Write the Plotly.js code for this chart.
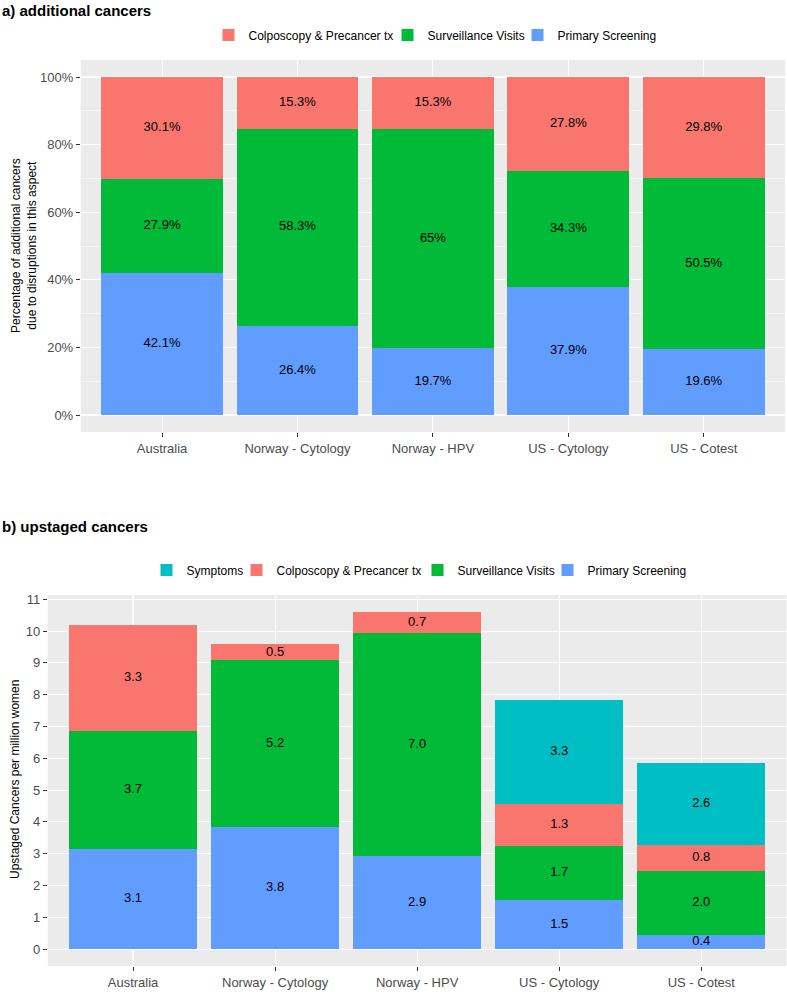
<!DOCTYPE html>
<html>
<head>
<meta charset="utf-8">
<script src="https://cdn.plot.ly/plotly-3.0.1.min.js"></script>
<style>html,body{margin:0;padding:0;background:#fff;}#chart{width:787px;height:997px;}</style>
</head>
<body>
<div id="chart"></div>
<script>
// ---------- data ----------
const categories = ['Australia', 'Norway - Cytology', 'Norway - HPV', 'US - Cytology', 'US - Cotest'];

// panel a: percentage of additional cancers (%)
const aPrimary      = [42.1, 26.4, 19.7, 37.9, 19.6];
const aSurveillance = [27.9, 58.3, 65, 34.3, 50.5];
const aColposcopy   = [30.1, 15.3, 15.3, 27.8, 29.8];

// panel b: upstaged cancers per million women
const bPrimary      = [3.14, 3.84, 2.92, 1.54, 0.44];
const bSurveillance = [3.72, 5.24, 7.02, 1.70, 2.01];
const bColposcopy   = [3.32, 0.50, 0.66, 1.32, 0.82];
const bSymptoms     = [null, null, null, 3.27, 2.58];

const seriesNames = ['Primary Screening', 'Surveillance Visits', 'Colposcopy & Precancer tx', 'Symptoms'];
const seriesColors = ['#619CFF', '#00BA38', '#F8766D', '#00BFC4'];

// ---------- helpers ----------
const FONT = 'Liberation Sans, Arial, sans-serif';
const W = 787, H = 997;
const px = v => v / W;
const py = v => 1 - v / H;
const SWATCH_OFFSET = 13.5;   // legend left edge -> swatch left edge (px)

// legend slot (swatch left edge in px) per panel and series index
const legendSlotsA = {2: 222, 1: 401, 0: 531};
const legendSlotsB = {3: 160, 2: 250, 1: 431, 0: 561};

const traces = [];
const legends = {};
let legendCount = 0;
function newLegend(swatchLeft, yCenter) {
  legendCount += 1;
  const key = legendCount === 1 ? 'legend' : 'legend' + legendCount;
  legends[key] = {
    orientation: 'h', x: px(swatchLeft - SWATCH_OFFSET), xanchor: 'left',
    y: py(yCenter), yanchor: 'middle',
    font: {family: FONT, size: 12, color: '#000'},
    bgcolor: 'rgba(0,0,0,0)', itemwidth: 30
  };
  return key;
}

// panel a: normalise per category (position = fill)
const aSeries = [aPrimary, aSurveillance, aColposcopy];
const aTotals = categories.map((c, i) => aSeries.reduce((s, arr) => s + (arr[i] || 0), 0));
const aCum = categories.map(() => 0);
const aTx = [], aTy = [], aTt = [];
aSeries.forEach((arr, k) => {
  const frac = arr.map((v, i) => v / aTotals[i]);
  traces.push({
    type: 'bar', x: categories, y: frac, name: seriesNames[k],
    marker: {color: seriesColors[k], line: {width: 0}},
    xaxis: 'x', yaxis: 'y', legend: newLegend(legendSlotsA[k], 35), hoverinfo: 'skip'
  });
  frac.forEach((f, i) => {
    aTx.push(categories[i]); aTy.push(aCum[i] + f / 2); aTt.push(arr[i] + '%');
    aCum[i] += f;
  });
});
traces.push({
  type: 'scatter', mode: 'text', x: aTx, y: aTy, text: aTt,
  textfont: {family: FONT, size: 13, color: '#000'}, textposition: 'middle center',
  xaxis: 'x', yaxis: 'y', showlegend: false, hoverinfo: 'skip', cliponaxis: false
});

// panel b
const bSeries = [bPrimary, bSurveillance, bColposcopy, bSymptoms];
const bCum = categories.map(() => 0);
const bTx = [], bTy = [], bTt = [];
bSeries.forEach((arr, k) => {
  traces.push({
    type: 'bar', x: categories, y: arr, name: seriesNames[k],
    marker: {color: seriesColors[k], line: {width: 0}},
    xaxis: 'x2', yaxis: 'y2', legend: newLegend(legendSlotsB[k], 570), hoverinfo: 'skip'
  });
  arr.forEach((v, i) => {
    if (v == null) return;
    bTx.push(categories[i]); bTy.push(bCum[i] + v / 2); bTt.push(v.toFixed(1));
    bCum[i] += v;
  });
});
traces.push({
  type: 'scatter', mode: 'text', x: bTx, y: bTy, text: bTt,
  textfont: {family: FONT, size: 13, color: '#000'}, textposition: 'middle center',
  xaxis: 'x2', yaxis: 'y2', showlegend: false, hoverinfo: 'skip', cliponaxis: false
});

const xCommon = {
  type: 'category', categoryorder: 'array', categoryarray: categories,
  range: [-0.6, 4.6], showgrid: true, gridcolor: '#FFFFFF', gridwidth: 1.1,
  zeroline: false, showline: false, ticks: 'outside', ticklen: 4, tickwidth: 1,
  tickcolor: '#333333', tickfont: {family: FONT, size: 13, color: '#4D4D4D'},
  fixedrange: true, automargin: false
};
const yCommon = {
  showgrid: true, gridcolor: '#FFFFFF', gridwidth: 1.1, zeroline: false, showline: false,
  ticks: 'outside', ticklen: 4, tickwidth: 1, tickcolor: '#333333',
  tickfont: {family: FONT, size: 13, color: '#4D4D4D'}, fixedrange: true, automargin: false
};

const layout = Object.assign({
  width: W, height: H,
  margin: {l: 0, r: 0, t: 0, b: 0, pad: 0},
  paper_bgcolor: '#FFFFFF', plot_bgcolor: '#EBEBEB',
  barmode: 'stack', bargap: 0.1,
  font: {family: FONT, color: '#000'},
  hovermode: false,
  xaxis: Object.assign({}, xCommon, {domain: [px(80.8), px(785)], anchor: 'y'}),
  yaxis: Object.assign({}, yCommon, {
    domain: [py(432), py(60)], anchor: 'x', range: [-0.0503, 1.0503],
    tickmode: 'linear', tick0: 0, dtick: 0.2, tickformat: '.0%',
    minor: {tickmode: 'linear', tick0: 0, dtick: 0.1, showgrid: true, gridcolor: '#FFFFFF', gridwidth: 0.55, ticks: ''}
  }),
  xaxis2: Object.assign({}, xCommon, {domain: [px(47.8), px(786.5)], anchor: 'y2'}),
  yaxis2: Object.assign({}, yCommon, {
    domain: [py(966), py(595)], anchor: 'x2', range: [-0.53, 11.135],
    tickmode: 'linear', tick0: 0, dtick: 1
  }),
  annotations: [
    {text: '<b>a) additional cancers</b>', xref: 'paper', yref: 'paper', x: 0, y: py(10),
     xanchor: 'left', yanchor: 'middle', showarrow: false, font: {family: FONT, size: 15, color: '#000'}},
    {text: '<b>b) upstaged cancers</b>', xref: 'paper', yref: 'paper', x: 0, y: py(526),
     xanchor: 'left', yanchor: 'middle', showarrow: false, font: {family: FONT, size: 15, color: '#000'}},
    {text: 'Percentage of additional cancers<br>due to disruptions in this aspect', xref: 'paper', yref: 'paper',
     x: px(24), y: py(246), xanchor: 'center', yanchor: 'middle', textangle: -90, showarrow: false,
     font: {family: FONT, size: 12, color: '#000'}},
    {text: 'Upstaged Cancers per million women', xref: 'paper', yref: 'paper',
     x: px(15), y: py(780), xanchor: 'center', yanchor: 'middle', textangle: -90, showarrow: false,
     font: {family: FONT, size: 12, color: '#000'}}
  ]
}, legends);

Plotly.newPlot('chart', traces, layout, {staticPlot: true, displayModeBar: false});
</script>
</body>
</html>
